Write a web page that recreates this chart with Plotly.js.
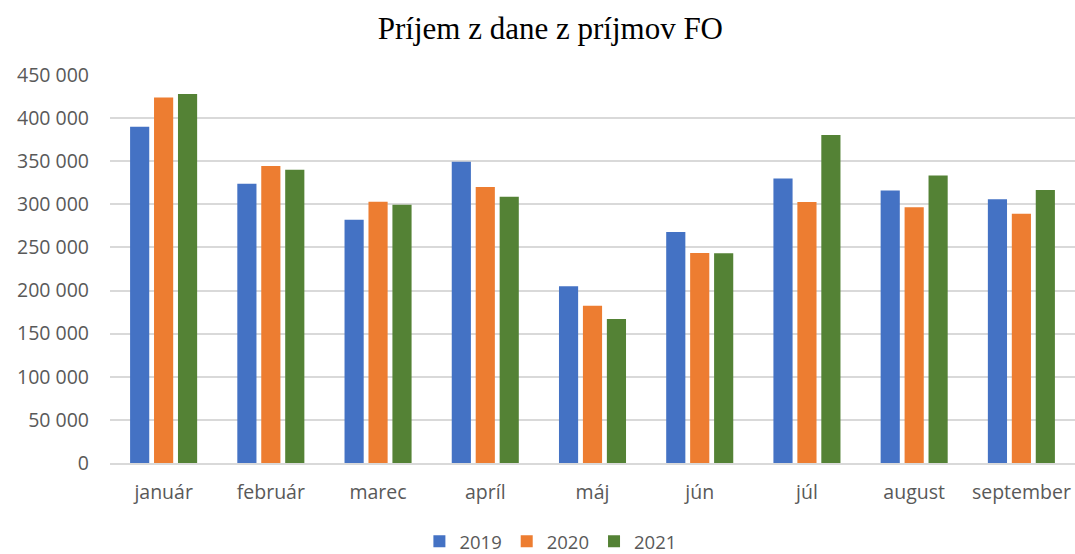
<!DOCTYPE html>
<html>
<head>
<meta charset="utf-8">
<script src="https://cdn.plot.ly/plotly-3.0.1.min.js"></script>
<style>html,body{margin:0;padding:0;background:#fff;}#chart{width:1075px;height:554px;}</style>
</head>
<body>
<div id="chart"></div>
<script>
const months = ["január","február","marec","apríl","máj","jún","júl","august","september"];
const y2019 = [390000, 324000, 282000, 349500, 205000, 268000, 330000, 316000, 306000];
const y2020 = [424000, 344500, 303000, 320000, 182500, 243500, 302800, 296500, 289000];
const y2021 = [428000, 340000, 299500, 308800, 167000, 243200, 380500, 333300, 316500];
const seriesNames = ["2019","2020","2021"];
const colors = ["#4472C4","#ED7D31","#548235"];

const data = [y2019, y2020, y2021].map((vals, i) => ({
  type: "bar",
  name: seriesNames[i],
  x: months,
  y: vals,
  marker: {color: colors[i]}
}));

const tickFont = {family: "Open Sans", size: 19.5, color: "#595959"};
const layout = {
  width: 1075, height: 554,
  margin: {l: 110, r: 0, t: 75, b: 91},
  paper_bgcolor: "#fff", plot_bgcolor: "#fff",
  separators: ", ",
  title: {text: "Príjem z dane z príjmov FO", font: {family: "Liberation Serif", size: 31, color: "#000"}, x: 0.512, xanchor: "center", y: 0.95, yanchor: "middle", xref: "container", yref: "container"},
  barmode: "group",
  bargap: 0.33,
  bargroupgap: 0.2,
  xaxis: {
    tickfont: tickFont,
    showline: true, linecolor: "#d9d9d9", linewidth: 1.5,
    ticks: "", ticklabelstandoff: 11
  },
  yaxis: {
    range: [0, 450000], dtick: 50000, tickformat: ",d",
    tickfont: tickFont,
    showgrid: true, gridcolor: "#d9d9d9", gridwidth: 1.5,
    zeroline: false, ticks: "", ticklabelstandoff: 20
  },
  showlegend: true,
  legend: {
    orientation: "h", xref: "container", yref: "container",
    x: 0.512, xanchor: "center", y: 0.022, yanchor: "middle",
    font: {family: "Open Sans", size: 18.5, color: "#595959"},
    itemwidth: 30
  }
};
Plotly.newPlot("chart", data, layout, {displayModeBar: false});
</script>
</body>
</html>
